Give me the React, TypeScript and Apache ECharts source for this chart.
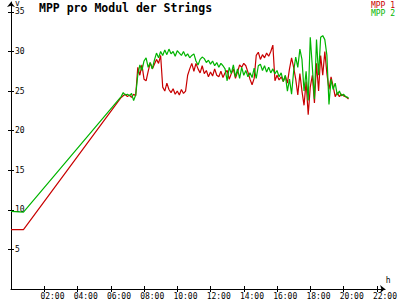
import { useEffect, useRef } from "react";
import * as echarts from "echarts";

const hours = [
  0, 0.75, 6.625, 6.75, 6.875, 7.0, 7.125, 7.25, 7.375, 7.5, 7.625, 7.75, 7.875,
  8.0, 8.125, 8.25, 8.375, 8.5, 8.625, 8.75, 8.875, 9.0, 9.125, 9.25, 9.375,
  9.5, 9.625, 9.75, 9.875, 10.0, 10.125, 10.25, 10.375, 10.5, 10.625, 10.75, 10.875,
  11.0, 11.125, 11.25, 11.375, 11.5, 11.625, 11.75, 11.875, 12.0, 12.125, 12.25, 12.375,
  12.5, 12.625, 12.75, 12.875, 13.0, 13.125, 13.25, 13.375, 13.5, 13.625, 13.75, 13.875,
  14.0, 14.125, 14.25, 14.375, 14.5, 14.625, 14.75, 14.875, 15.0, 15.125, 15.25, 15.375,
  15.5, 15.625, 15.75, 15.875, 16.0, 16.125, 16.25, 16.375, 16.5, 16.625, 16.75, 16.875,
  17.0, 17.125, 17.25, 17.375, 17.5, 17.625, 17.75, 17.875, 18.0, 18.125, 18.25, 18.375,
  18.5, 18.625, 18.75, 18.875, 19.0, 19.125, 19.25, 19.375, 19.5, 19.625, 19.75, 19.875,
  20.0, 20.125, 20.25, 20.3,
];

const mpp1 = [
  7.5, 7.5, 24.2, 24.4, 24.6, 24.3, 24.5, 24.2, 24.6, 24.4, 28.0, 27.0, 28.3,
  26.5, 26.3, 27.5, 28.6, 27.8, 28.4, 29.0, 28.5, 29.5, 25.5, 25.0, 26.0,
  25.2, 24.8, 25.3, 24.6, 25.0, 24.5, 25.2, 24.7, 25.0, 27.0, 27.8, 28.5,
  27.5, 28.5, 27.8, 27.3, 28.2, 27.2, 27.6, 26.8, 27.4, 26.9, 27.8, 27.0,
  26.8, 27.5, 26.7, 27.3, 27.6, 26.5, 27.2, 27.8, 26.6, 27.4, 28.3, 28.0,
  28.5, 28.2, 27.4, 26.5, 25.8, 26.6, 29.5, 29.9, 29.0, 29.6, 29.2, 29.8,
  29.4, 30.0, 30.8, 26.3, 27.0, 26.4, 26.8, 26.2, 26.9, 26.0, 27.8, 29.2,
  28.0, 26.5, 24.5, 27.2, 25.0, 23.2, 26.2, 22.0, 25.5, 27.0, 23.5, 28.5,
  25.0, 29.5, 27.0, 30.0, 27.2, 25.2, 26.8, 25.6, 24.3, 24.8, 24.3, 24.6,
  24.4, 24.3, 24.1, 24.0,
];

const mpp2 = [
  9.8, 9.7, 24.3, 24.8, 24.5, 24.6, 24.4, 24.7, 23.8, 24.5, 27.0, 28.3, 27.6,
  28.8, 29.2, 28.0, 28.6, 27.8, 28.9, 29.8, 29.2, 30.0, 29.5, 30.2, 29.6,
  30.3, 29.7, 30.0, 29.4, 30.1, 29.8, 29.5, 30.0, 29.4, 29.7, 29.2, 29.5,
  29.7, 28.8, 28.3, 29.0, 29.3, 29.1, 28.6, 28.9, 28.4, 28.8, 28.2, 28.6,
  28.0, 28.5, 28.2, 27.8, 26.3, 28.0, 27.2, 28.3, 26.8, 27.8, 26.6, 28.0,
  27.0, 27.6, 26.8, 27.3, 26.7, 27.9, 26.6, 28.2, 28.4, 27.6, 28.2, 27.4,
  28.0, 27.3, 27.8, 27.2, 27.6, 26.8, 27.3, 26.2, 27.0, 25.0, 26.5, 24.6,
  27.5, 29.3, 28.0, 30.3, 29.0, 25.0, 27.5, 23.8, 31.8, 28.0, 24.0, 31.5,
  27.0, 31.8, 32.0, 31.5, 29.5, 23.3, 26.5, 25.2, 26.0, 24.5, 25.0, 24.4,
  24.6, 24.3, 24.2, 24.1,
];

const yTicks = [5, 10, 15, 20, 25, 30, 35];
const xTicks = [2, 4, 6, 8, 10, 12, 14, 16, 18, 20, 22];

const RED = "#c80000";
const GREEN = "#00b400";
const FONT = "DejaVu Sans Mono";

function hourLabel(h: number): string {
  return (h < 10 ? "0" : "") + h + ":00";
}

export default function App() {
  const ref = useRef<HTMLDivElement>(null);
  useEffect(() => {
    if (!ref.current) return;
    const chart = echarts.init(ref.current, null, { renderer: "svg" });
    const labelShift = 4 / 17.25;
    chart.setOption({
      animation: false,
      backgroundColor: "#ffffff",
      textStyle: { fontFamily: FONT },
      title: {
        text: "MPP pro Modul der Strings",
        left: 39,
        top: 2,
        padding: 0,
        textStyle: { fontFamily: FONT, fontWeight: "bold", fontSize: 11.5, color: "#000" },
      },
      legend: {
        orient: "vertical",
        right: 5,
        top: 1,
        padding: 0,
        itemGap: 0,
        itemWidth: 0,
        itemHeight: 8,
        icon: "none",
        align: "left",
        selectedMode: false,
        textStyle: { fontFamily: FONT, fontSize: 8, lineHeight: 8, padding: 0 },
        data: [
          { name: "MPP 1", textStyle: { color: RED } },
          { name: "MPP 2", textStyle: { color: GREEN } },
        ],
      },
      grid: { left: 11, right: 1, top: 1, bottom: 9 },
      xAxis: [
        {
          type: "value",
          position: "bottom",
          min: 0,
          max: 22.5,
          name: "h",
          nameLocation: "end",
          nameGap: 3,
          nameTextStyle: {
            fontFamily: FONT,
            fontSize: 8,
            color: "#000",
            align: "center",
            verticalAlign: "bottom",
            padding: [0, 0, 5, 0],
          },
          axisLine: {
            onZero: false,
            symbol: ["none", "arrow"],
            symbolSize: [6, 5],
            lineStyle: { color: "#000", width: 1 },
          },
          axisTick: { customValues: xTicks, length: 3, lineStyle: { color: "#000" } },
          axisLabel: {
            customValues: xTicks.map((v) => v - labelShift),
            formatter: (v: number) => hourLabel(Math.round(v)),
            align: "left",
            margin: 3,
            fontFamily: FONT,
            fontSize: 8,
            color: "#000",
          },
          splitLine: { show: false },
        },
        {
          type: "value",
          position: "bottom",
          min: 0,
          max: 22.5,
          axisLine: { show: false },
          axisTick: { customValues: xTicks, inside: true, length: 3, lineStyle: { color: "#000" } },
          axisLabel: { show: false },
          splitLine: { show: false },
        },
      ],
      yAxis: [
        {
          type: "value",
          position: "left",
          min: 0,
          max: 36.25,
          name: "v",
          nameLocation: "end",
          nameGap: -6,
          nameTextStyle: {
            fontFamily: FONT,
            fontSize: 8,
            color: "#000",
            align: "left",
            verticalAlign: "bottom",
            padding: [0, 0, 0, 4],
          },
          axisLine: {
            onZero: false,
            symbol: ["none", "arrow"],
            symbolSize: [6, 5],
            lineStyle: { color: "#000", width: 1 },
          },
          axisTick: { customValues: yTicks, length: 3, lineStyle: { color: "#000" } },
          axisLabel: {
            customValues: yTicks,
            inside: true,
            margin: 4,
            fontFamily: FONT,
            fontSize: 8,
            color: "#000",
          },
          splitLine: { show: false },
        },
        {
          type: "value",
          position: "left",
          min: 0,
          max: 36.25,
          axisLine: { show: false },
          axisTick: { customValues: yTicks, inside: true, length: 3, lineStyle: { color: "#000" } },
          axisLabel: { show: false },
          splitLine: { show: false },
        },
      ],
      series: [
        {
          name: "MPP 1",
          type: "line",
          xAxisIndex: 0,
          yAxisIndex: 0,
          symbol: "none",
          showSymbol: false,
          color: RED,
          lineStyle: { color: RED, width: 1.2 },
          emphasis: { disabled: true },
          data: hours.map((h, i) => [h, mpp1[i]]),
        },
        {
          name: "MPP 2",
          type: "line",
          xAxisIndex: 0,
          yAxisIndex: 0,
          symbol: "none",
          showSymbol: false,
          color: GREEN,
          lineStyle: { color: GREEN, width: 1.2 },
          emphasis: { disabled: true },
          data: hours.map((h, i) => [h, mpp2[i]]),
        },
      ],
    });
    return () => chart.dispose();
  }, []);
  return (
    <div
      ref={ref}
      style={{ position: "fixed", left: 0, top: 0, width: 400, height: 300 }}
    />
  );
}
